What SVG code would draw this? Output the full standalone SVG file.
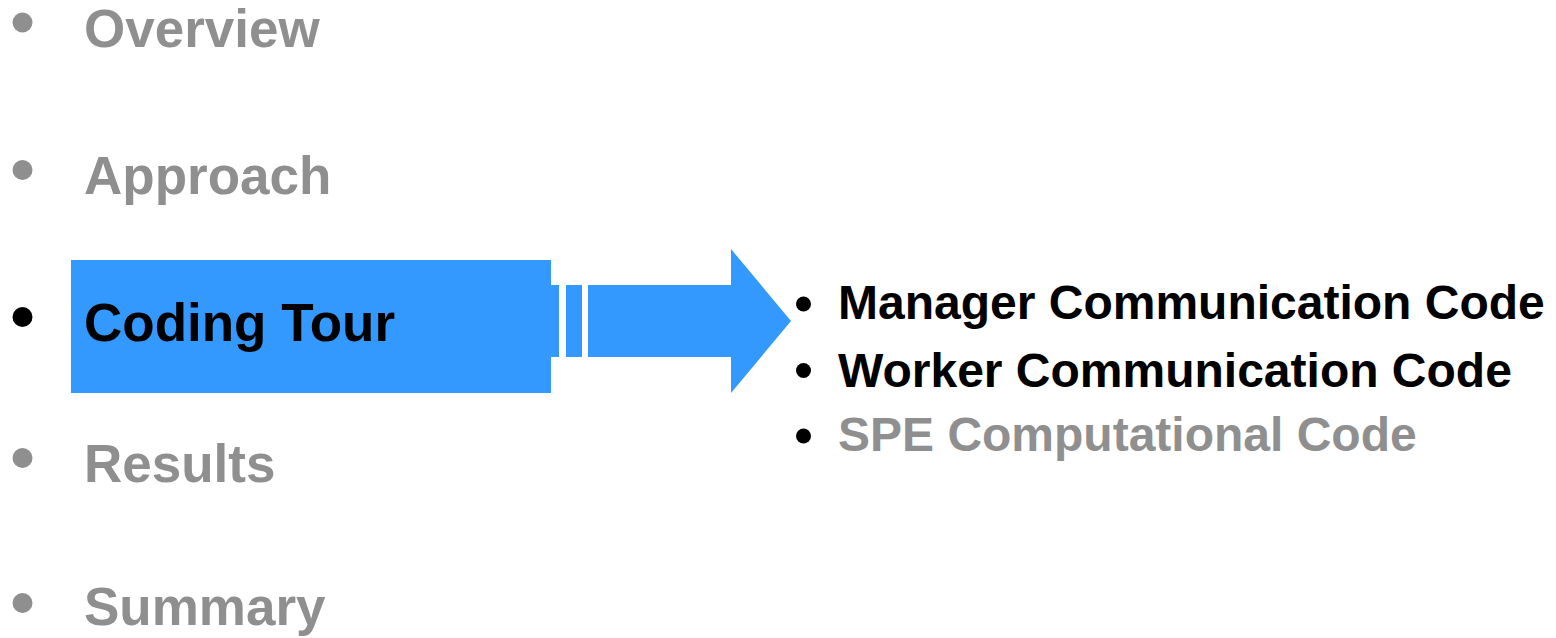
<svg xmlns="http://www.w3.org/2000/svg" width="1556" height="638" viewBox="0 0 1556 638">
  <style>
    .main { font-family: "Liberation Sans", Arial, sans-serif; font-weight: bold; font-size: 53px; }
    .sub { font-family: "Liberation Sans", Arial, sans-serif; font-weight: bold; font-size: 48px; }
    .dim { fill: #8f8f8f; }
    .on { fill: #000000; }
    .blue { fill: #3399ff; }
  </style>
  <rect width="1556" height="638" fill="#ffffff"/>

  <!-- agenda items -->
  <g id="item-overview">
    <circle class="dim" cx="22.5" cy="22.5" r="10"/>
    <text class="main dim" x="84" y="47">Overview</text>
  </g>
  <g id="item-approach">
    <circle class="dim" cx="22.5" cy="170" r="10"/>
    <text class="main dim" x="84" y="194">Approach</text>
  </g>
  <g id="item-coding-tour">
    <rect class="blue" x="71" y="260" width="480" height="133"/>
    <circle class="on" cx="22.5" cy="317" r="10"/>
    <text class="main on" x="84" y="341">Coding Tour</text>
  </g>
  <g id="item-results">
    <circle class="dim" cx="22.5" cy="458" r="10"/>
    <text class="main dim" x="84" y="482">Results</text>
  </g>
  <g id="item-summary">
    <circle class="dim" cx="22.5" cy="603" r="10"/>
    <text class="main dim" x="84" y="625">Summary</text>
  </g>

  <!-- striped block arrow leading to the sub-topics -->
  <g id="connectors">
    <rect class="blue" x="551" y="285" width="8" height="72"/>
    <rect class="blue" x="566" y="285" width="16" height="72"/>
    <polygon class="blue" points="588,285 731,285 731,249 791,321 731,393 731,357 588,357"/>
  </g>

  <!-- sub-topics -->
  <g id="sub-manager">
    <circle class="on" cx="803.5" cy="304" r="7.5"/>
    <text class="sub on" x="838" y="319">Manager Communication Code</text>
  </g>
  <g id="sub-worker">
    <circle class="on" cx="803.5" cy="370.5" r="7.5"/>
    <text class="sub on" x="838" y="387">Worker Communication Code</text>
  </g>
  <g id="sub-spe">
    <circle class="on" cx="803.5" cy="436" r="7.5"/>
    <text class="sub dim" x="838" y="451">SPE Computational Code</text>
  </g>
</svg>
